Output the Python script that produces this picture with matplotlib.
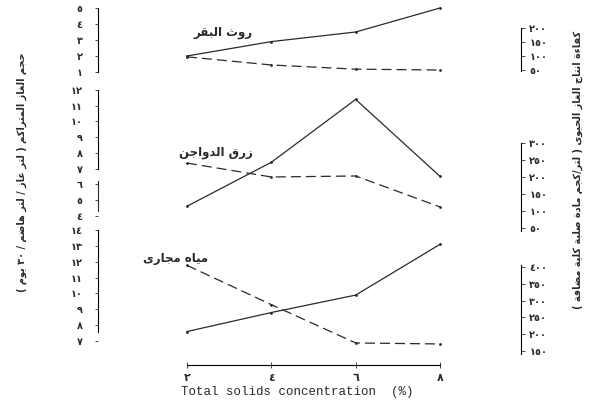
import matplotlib.pyplot as plt
from matplotlib.ticker import FuncFormatter

# total solids concentration (%)
solids = [2, 4, 6, 8]

# cumulative gas volume (left scale, solid lines)
cow_volume = [2.0, 2.9, 3.5, 5.0]
poultry_volume = [4.6, 7.4, 11.4, 6.5]
sewage_volume = [7.6, 8.8, 9.9, 13.1]

# biogas efficiency (right scale, dashed lines)
cow_eff = [97, 68, 53, 50]
poultry_eff = [241, 200, 203, 112]
sewage_eff = [405, 288, 174, 171]

names = ['روث البقر', 'زرق الدواجن', 'مياه مجارى']
left_ticks = [[1, 2, 3, 4, 5], [4, 5, 6, 7, 8, 9, 10, 11, 12], [7, 8, 9, 10, 11, 12, 13, 14]]
right_ticks = [[50, 100, 150, 200], [50, 100, 150, 200, 250, 300], [150, 200, 250, 300, 350, 400]]
x_ticks = [2, 4, 6, 8]

left_title = 'حجم الغاز المتراكم ( لتر غاز / لتر هاضم / ٣٠ يوم )'
right_title = 'كفاءة انتاج الغاز الحيوى ( لتر/كجم مادة صلبة كلية مضافة )'
x_title = 'Total solids concentration  (%)'


# matplotlib has no arabic shaping, so pick presentation forms by hand
AR = {'ء': (0xFE80, 1), 'آ': (0xFE81, 2), 'أ': (0xFE83, 2), 'ؤ': (0xFE85, 2), 'إ': (0xFE87, 2),
      'ئ': (0xFE89, 4), 'ا': (0xFE8D, 2), 'ب': (0xFE8F, 4), 'ة': (0xFE93, 2), 'ت': (0xFE95, 4),
      'ث': (0xFE99, 4), 'ج': (0xFE9D, 4), 'ح': (0xFEA1, 4), 'خ': (0xFEA5, 4), 'د': (0xFEA9, 2),
      'ذ': (0xFEAB, 2), 'ر': (0xFEAD, 2), 'ز': (0xFEAF, 2), 'س': (0xFEB1, 4), 'ش': (0xFEB5, 4),
      'ص': (0xFEB9, 4), 'ض': (0xFEBD, 4), 'ط': (0xFEC1, 4), 'ظ': (0xFEC5, 4), 'ع': (0xFEC9, 4),
      'غ': (0xFECD, 4), 'ف': (0xFED1, 4), 'ق': (0xFED5, 4), 'ك': (0xFED9, 4), 'ل': (0xFEDD, 4),
      'م': (0xFEE1, 4), 'ن': (0xFEE5, 4), 'ه': (0xFEE9, 4), 'و': (0xFEED, 2), 'ى': (0xFEEF, 2),
      'ي': (0xFEF1, 4)}
DIGITS = '0123456789٠١٢٣٤٥٦٧٨٩'


def shape(text):
    out = []
    for i, ch in enumerate(text):
        if ch not in AR:
            out.append(ch)
            continue
        base, n = AR[ch]
        prev = text[i - 1] if i > 0 else ''
        nxt = text[i + 1] if i + 1 < len(text) else ''
        jp = n > 1 and prev in AR and AR[prev][1] == 4
        jn = n == 4 and nxt in AR and AR[nxt][1] > 1
        form = 3 if (jp and jn) else 2 if jn else 1 if jp else 0
        out.append(chr(base + form))
    # visual order: reverse everything but keep digit runs in order
    runs, cur = [], ''
    for ch in out:
        if cur and (ch in DIGITS) != (cur[-1] in DIGITS):
            runs.append(cur)
            cur = ''
        cur += ch
    runs.append(cur)
    vis = ''.join(r if r[0] in DIGITS else r[::-1] for r in reversed(runs))
    return vis.translate(str.maketrans('()', ')('))


def ar_num(v, pos=None):
    return str(int(round(v))).translate(str.maketrans('0123456789', '٠١٢٣٤٥٦٧٨٩'))


W, H = 589, 400
# panel boxes in pixels (top, bottom) and y limits for each scale
boxes = [(0, 82), (82, 232), (225, 365)]
left_lims = [(0.375, 5.5), (2.96, 12.51), (5.49, 14.32)]
right_lims = [(7.2, 300), (38.3, 479.3), (108.4, 525)]
left_bounds = [(1, 5), (7, 12), (7.6, 14)]
right_bounds = [(45, 200), (40, 300), (140, 405)]
label_pos = [(3.56, 3.45), (3.56, 8.0), (2.5, 12.2)]

volumes = [cow_volume, poultry_volume, sewage_volume]
effs = [cow_eff, poultry_eff, sewage_eff]

ink = '#2a2a2a'
fig = plt.figure(figsize=(W / 100, H / 100), dpi=100)

for k in range(3):
    top, bot = boxes[k]
    ax = fig.add_axes([98 / W, 1 - bot / H, (521 - 98) / W, (bot - top) / H])
    ax.patch.set_visible(False)
    ax2 = ax.twinx()
    ax.set_xlim(-0.11, 9.92)
    ax.set_ylim(*left_lims[k])
    ax2.set_ylim(*right_lims[k])

    ax.plot(solids, volumes[k], color=ink, lw=0.9, marker='.', ms=2)
    ax2.plot(solids, effs[k], color=ink, lw=0.9, dashes=(8, 4), marker='.', ms=2)
    ax.text(*label_pos[k], shape(names[k]), ha='right', va='center',
            fontsize=8.5, fontweight='bold', family='DejaVu Sans', color=ink)

    for a in (ax, ax2):
        a.spines['top'].set_visible(False)
        a.spines['bottom'].set_visible(False)
    ax.spines['right'].set_visible(False)
    ax2.spines['left'].set_visible(False)
    ax.spines['left'].set_bounds(*left_bounds[k])
    ax.spines['left'].set_linewidth(0.8)
    ax2.spines['right'].set_bounds(*right_bounds[k])
    ax2.spines['right'].set_linewidth(0.8)

    ax.set_yticks(left_ticks[k])
    ax2.set_yticks(right_ticks[k])
    ax.yaxis.set_major_formatter(FuncFormatter(ar_num))
    ax2.yaxis.set_major_formatter(FuncFormatter(ar_num))
    ax.tick_params(axis='y', length=2, width=0.6, pad=9, labelsize=7, colors=ink)
    ax2.tick_params(axis='y', length=3, width=0.6, pad=3, labelsize=7, colors=ink)
    for t in ax.get_yticklabels() + ax2.get_yticklabels():
        t.set_fontweight('bold')

    if k == 1:
        # the poultry scale is drawn in two pieces
        ax.plot([0, 0], [4.3, 6.2], transform=ax.get_yaxis_transform(),
                color=ink, lw=0.8, clip_on=False)

    if k < 2:
        ax.tick_params(axis='x', bottom=False, labelbottom=False)
    else:
        ax.spines['bottom'].set_visible(True)
        ax.spines['bottom'].set_bounds(2, 8)
        ax.spines['bottom'].set_linewidth(0.8)
        ax.set_xticks(x_ticks)
        ax.xaxis.set_major_formatter(FuncFormatter(ar_num))
        ax.tick_params(axis='x', direction='inout', length=5, width=0.6, pad=3,
                       labelsize=8, colors=ink)
        for t in ax.get_xticklabels():
            t.set_fontweight('bold')
        ax.set_xlabel(x_title, family='Liberation Mono', fontsize=9, color=ink)
        ax.xaxis.set_label_coords(0.47, -0.15)

fig.text(22 / W, 1 - 172 / H, shape(left_title), rotation=90, ha='center', va='center',
         fontsize=7, fontweight='bold', family='DejaVu Sans', color=ink)
fig.text(578 / W, 1 - 170 / H, shape(right_title), rotation=90, ha='center', va='center',
         fontsize=7, fontweight='bold', family='DejaVu Sans', color=ink)

fig.savefig('out.png', dpi=100)
